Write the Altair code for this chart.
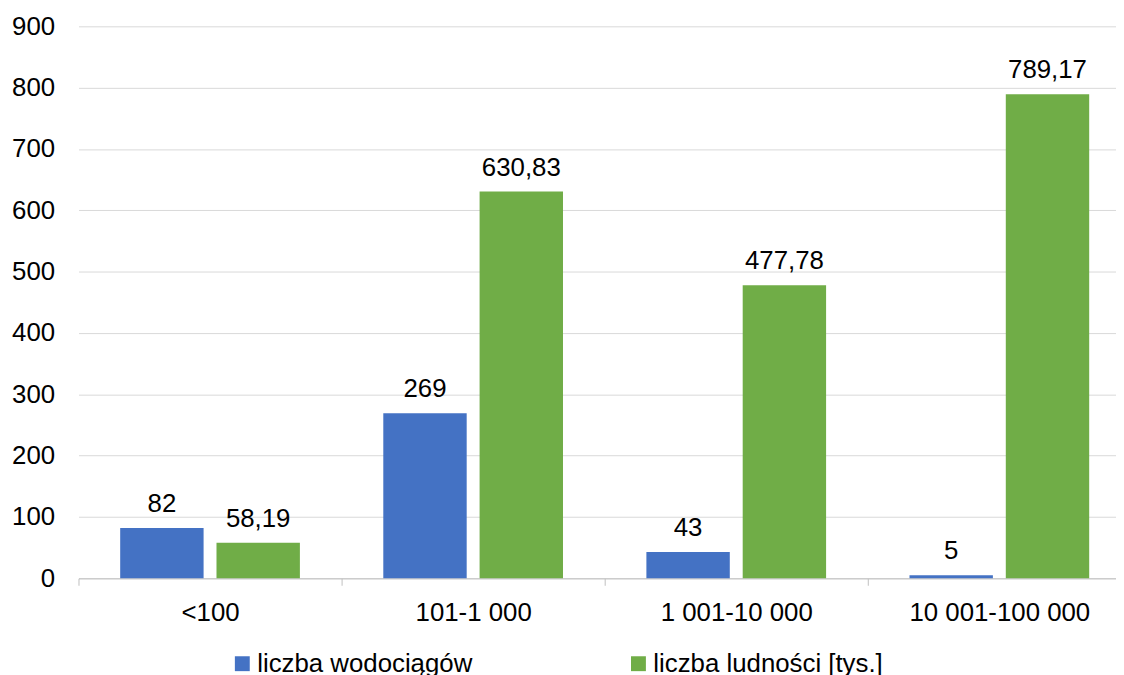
import altair as alt
import pandas as pd

categories = ["<100", "101-1 000", "1 001-10 000", "10 001-100 000"]
series = ["liczba wodociągów", "liczba ludności [tys.]"]
wodociagi = [82, 269, 43, 5]
ludnosc = [58.19, 630.83, 477.78, 789.17]
colors = ["#4472C4", "#70AD47"]
y_ticks = [0, 100, 200, 300, 400, 500, 600, 700, 800, 900]


def fmt(v):
    return str(int(v)) if float(v).is_integer() else f"{v:.2f}".replace(".", ",")


rows = []
for s, vals in zip(series, [wodociagi, ludnosc]):
    for c, v in zip(categories, vals):
        rows.append({"kategoria": c, "seria": s, "wartosc": v, "etykieta": fmt(v)})
df = pd.DataFrame(rows)

FONT = "Liberation Sans"
TXT = "#000000"

base = alt.Chart(df).encode(
    x=alt.X(
        "kategoria:N",
        sort=categories,
        scale=alt.Scale(range=[0, 1060], paddingInner=0, paddingOuter=0),
        axis=alt.Axis(
            title=None, labelAngle=0, tickBand="extent", ticks=True, tickSize=7,
            tickColor="#BFBFBF", domainColor="#BFBFBF", labelFontSize=26,
            labelFont=FONT, labelColor=TXT, labelPadding=14, grid=False,
            labelLimit=500,
        ),
    ),
    xOffset=alt.XOffset(
        "seria:N", sort=series,
        scale=alt.Scale(paddingInner=0.134, paddingOuter=0.433),
    ),
    y=alt.Y(
        "wartosc:Q",
        scale=alt.Scale(domain=[0, 900], nice=False),
        axis=alt.Axis(
            title=None, values=y_ticks, grid=True, gridColor="#D9D9D9",
            domain=False, ticks=False, labelPadding=24, labelFontSize=26,
            labelFont=FONT, labelColor=TXT,
        ),
    ),
)

bars = base.mark_bar().encode(
    color=alt.Color(
        "seria:N",
        sort=series,
        scale=alt.Scale(domain=series, range=colors),
        legend=alt.Legend(
            orient="none", legendX=152, legendY=629, direction="horizontal",
            title=None, symbolType="square", symbolSize=225, symbolStrokeWidth=0,
            labelFontSize=26, labelFont=FONT, labelColor=TXT, columnPadding=154,
            labelOffset=2, padding=0, labelLimit=500,
        ),
    )
)

labels = base.mark_text(
    baseline="alphabetic", dy=-16, fontSize=26, font=FONT, color=TXT
).encode(text="etykieta:N")

chart = (
    alt.layer(bars, labels)
    .properties(
        width=1045,
        height=556,
        autosize=alt.AutoSizeParams(type="none"),
        padding={"left": 71, "top": 16, "right": 0, "bottom": 103},
    )
    .configure_view(stroke=None)
)

chart.save("out.html", embed_options={"renderer": "svg", "actions": False})
